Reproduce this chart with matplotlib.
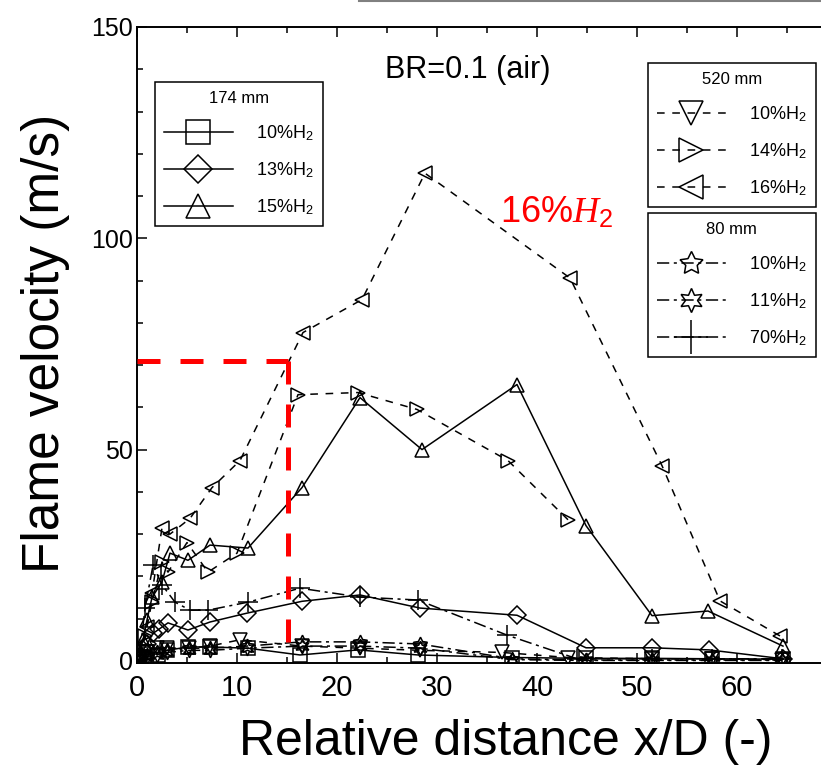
import matplotlib
matplotlib.use('Agg')
import matplotlib.pyplot as plt
from matplotlib.lines import Line2D
from matplotlib.ticker import MultipleLocator

plt.rcParams['font.family'] = ['Liberation Sans', 'DejaVu Sans']
plt.rcParams['mathtext.fontset'] = 'custom'
plt.rcParams['mathtext.rm'] = 'Liberation Sans'
plt.rcParams['mathtext.it'] = 'Liberation Serif:italic'

# 174 mm tube (solid lines)
x_174_10 = [0.2, 0.6, 1.0, 2.1, 3.0, 5.1, 7.3, 11.1, 16.3, 22.1, 28.1, 37.5, 44.9, 51.5, 57.5, 64.6]
y_174_10 = [1.0, 2.0, 2.0, 1.5, 2.5, 3.3, 3.3, 3.0, 1.4, 2.6, 1.4, 0.8, 0.6, 0.6, 0.5, 0.4]
x_174_13 = [0.2, 0.6, 1.0, 1.6, 2.2, 3.1, 5.1, 7.3, 11.0, 16.5, 22.3, 28.3, 38.0, 44.9, 51.5, 57.2, 64.6]
y_174_13 = [1.0, 2.5, 4.0, 6.5, 7.5, 9.0, 7.3, 9.2, 11.3, 14.1, 15.6, 12.5, 10.8, 3.1, 3.1, 2.6, 0.5]
x_174_15 = [0.2, 0.6, 1.0, 1.5, 2.5, 3.3, 5.1, 7.3, 11.1, 16.5, 22.3, 28.5, 38.0, 44.9, 51.5, 57.1, 64.6]
y_174_15 = [1.0, 5.0, 9.7, 15.0, 18.7, 25.5, 23.8, 27.4, 26.7, 41.0, 62.3, 50.0, 65.4, 32.0, 10.7, 11.8, 3.5]

# 520 mm tube (dashed lines)
x_520_10 = [0.3, 1.0, 2.0, 3.0, 5.2, 7.3, 10.3, 16.5, 22.3, 28.3, 36.5, 43.1, 51.5, 57.5, 64.5]
y_520_10 = [1.0, 2.0, 3.0, 3.0, 3.0, 3.5, 5.0, 3.5, 3.0, 2.5, 2.0, 0.8, 0.5, 0.5, 0.3]
x_520_14 = [0.3, 0.8, 1.5, 2.5, 3.1, 5.0, 7.1, 10.0, 16.1, 22.1, 28.0, 37.1, 43.1]
y_520_14 = [1.0, 6.0, 14.0, 23.4, 21.0, 28.0, 21.0, 25.5, 63.0, 63.5, 59.5, 47.4, 33.4]
x_520_16 = [0.3, 1.0, 1.5, 2.5, 3.3, 5.3, 7.5, 10.3, 16.6, 22.5, 28.8, 43.3, 52.5, 58.3, 64.3]
y_520_16 = [1.0, 8.0, 16.0, 31.5, 30.0, 33.7, 41.0, 47.4, 77.7, 85.5, 115.4, 90.6, 46.2, 14.2, 5.9]

# 80 mm tube (dash-dot lines)
x_80 = [0.3, 1.0, 2.0, 3.0, 5.2, 7.3, 11.0, 16.5, 22.3, 28.3, 37.5, 44.9, 51.5, 57.5, 64.5]
y_80_10 = [0.5, 1.5, 2.0, 2.5, 3.0, 3.0, 3.5, 4.5, 4.5, 4.0, 0.5, 0.2, 0.2, 0.2, 0.2]
y_80_11 = [0.5, 1.0, 1.5, 2.0, 2.5, 2.5, 3.0, 3.5, 3.5, 3.0, 0.3, 0.1, 0.1, 0.1, 0.1]
x_80_70 = [0.3, 0.8, 1.6, 2.5, 3.8, 5.3, 7.1, 11.1, 16.3, 22.3, 28.1, 37.0, 44.0, 51.5, 57.5, 64.5]
y_80_70 = [2.0, 12.5, 22.6, 18.0, 13.9, 12.0, 12.0, 13.9, 17.2, 15.1, 14.4, 6.1, 0.5, 0.5, 0.5, 0.5]

labels_174 = ['10%H$_2$', '13%H$_2$', '15%H$_2$']
labels_520 = ['10%H$_2$', '14%H$_2$', '16%H$_2$']
labels_80 = ['10%H$_2$', '11%H$_2$', '70%H$_2$']

ref_x = 15.1
ref_y = 71.0

fig = plt.figure(figsize=(8.21, 7.68), dpi=100)
ax = fig.add_axes([137 / 821, 1 - 663 / 768, 1 - 137 / 821, (663 - 27) / 768])

solid = '-'
dashed = (0, (5, 5))
dashdot = (0, (8, 3, 2, 3))
lw = 1.1
ms = 10.5
common = dict(color='black', lw=lw, mfc='none', mec='black', mew=1.1)

series = [
    (x_174_10, y_174_10, 's', solid),
    (x_174_13, y_174_13, 'D', solid),
    (x_174_15, y_174_15, '^', solid),
    (x_520_10, y_520_10, 'v', dashed),
    (x_520_14, y_520_14, '>', dashed),
    (x_520_16, y_520_16, '<', dashed),
    (x_80, y_80_10, (5, 1, 0), dashdot),
    (x_80, y_80_11, (6, 1, 0), dashdot),
    (x_80_70, y_80_70, '+', dashdot),
]
handles = []
for xs, ys, mk, ls in series:
    size = ms * 0.85 if mk == 'D' else ms
    if mk == '+':
        size = ms * 1.4
    h, = ax.plot(xs, ys, marker=mk, linestyle=ls, ms=size, **common)
    handles.append(h)

# red reference lines
ax.plot([0, ref_x], [ref_y, ref_y], color='#ff0000', lw=3.6, linestyle=(0, (4.6, 4)), zorder=5)
ax.plot([ref_x, ref_x], [ref_y, 0], color='#ff0000', lw=3.6, linestyle=(0, (4.6, 4)), zorder=5)

ax.text(42.0, 106, '16%$H_2$', color='#ff0000', fontsize=26, ha='center', va='center')
ax.text(33.1, 139.8, 'BR=0.1 (air)', fontsize=22, ha='center', va='center')

ax.set_xlim(0, 68.4)
ax.set_ylim(-0.5, 150)
ax.spines['right'].set_visible(False)
for s in ['left', 'top', 'bottom']:
    ax.spines[s].set_linewidth(1.4)
ax.set_xticks([0, 10, 20, 30, 40, 50, 60])
ax.set_yticks([0, 50, 100, 150])
ax.xaxis.set_minor_locator(MultipleLocator(5))
ax.yaxis.set_minor_locator(MultipleLocator(10))
ax.tick_params(which='both', direction='in', top=True, right=False)
ax.tick_params(which='major', length=7, width=1.1)
ax.tick_params(which='minor', length=4, width=1.1)
ax.tick_params(axis='x', labelsize=21, pad=8)
ax.tick_params(axis='y', labelsize=18, pad=3)
for lab in ax.get_xticklabels() + ax.get_yticklabels():
    lab.set_family(['Liberation Sans Narrow', 'Liberation Sans'])

fig.text(45 / 821, 1 - 343 / 768, 'Flame velocity (m/s)', rotation=90, fontsize=37,
         ha='center', va='center')
fig.text(506 / 821, 1 - 742 / 768, 'Relative distance x/D (-)', fontsize=36,
         ha='center', va='center')

leg_kw = dict(loc='upper left', bbox_transform=fig.transFigure, fontsize=13, title_fontsize=12,
              frameon=True, fancybox=False, edgecolor='black', framealpha=1, borderaxespad=0,
              handlelength=3.8, handletextpad=1.3, labelspacing=0.95, borderpad=0.5, markerscale=1.65)

leg1 = ax.legend(handles[0:3], labels_174, title='174 mm',
                 bbox_to_anchor=(155 / 821, 1 - 82 / 768), **leg_kw)
leg2 = ax.legend(handles[3:6], labels_520, title='520 mm',
                 bbox_to_anchor=(648 / 821, 1 - 63 / 768), **leg_kw)
leg3 = ax.legend(handles[6:9], labels_80, title='80 mm',
                 bbox_to_anchor=(648 / 821, 1 - 213 / 768), **leg_kw)
for leg in (leg1, leg2, leg3):
    leg.get_frame().set_linewidth(1.1)
ax.add_artist(leg1)
ax.add_artist(leg2)

fig.add_artist(Line2D([359 / 821, 1], [0.999, 0.999], color='gray', lw=1.5))

fig.savefig('out.png', dpi=100)
